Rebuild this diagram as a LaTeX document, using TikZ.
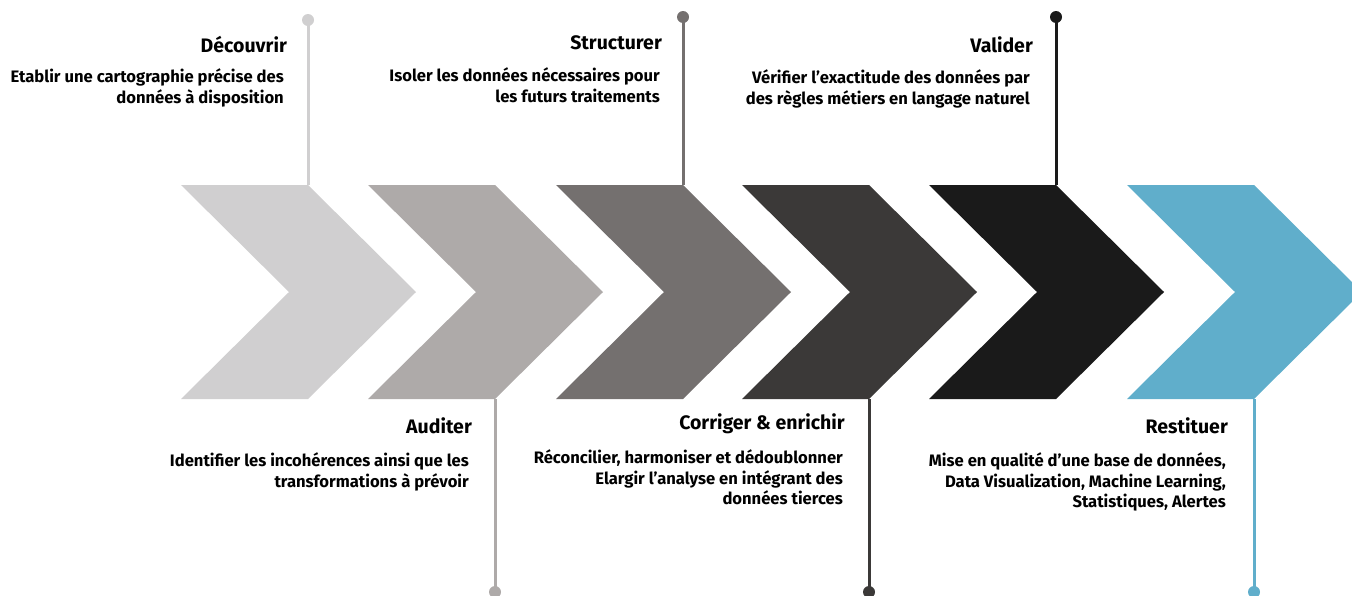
\documentclass[tikz,border=0pt]{standalone}
\usepackage{fontspec}
\setmainfont{Fira Sans}
\usepackage{xcolor}
\usetikzlibrary{positioning}

\definecolor{decouvrir}{HTML}{D0CFD0}
\definecolor{auditer}{HTML}{AEAAA9}
\definecolor{structurer}{HTML}{74706F}
\definecolor{corriger}{HTML}{3B3938}
\definecolor{valider}{HTML}{1A1A1A}
\definecolor{restituer}{HTML}{60AECB}

\begin{document}
\begin{tikzpicture}[x=1pt, y=-1pt,
    title/.style={anchor=east, font=\fontsize{19.5}{22}\selectfont\bfseries, inner sep=0pt},
    desc/.style={anchor=north east, align=right, font=\fontsize{16.6}{20.5}\selectfont\bfseries, inner sep=0pt},
    stem/.style={line width=3pt},
    dot/.style={circle, inner sep=0pt, minimum size=12pt}
]
    \clip (0,0) rectangle (1352,595);

    % chevrons
    \foreach \x/\c/\n in {181/decouvrir/1, 368/auditer/2, 556/structurer/3, 742/corriger/4, 929/valider/5, 1127/restituer/6} {
        \fill[\c] (\x,185) -- ++(127,0) -- ++(108,107) -- ++(-108,107) -- ++(-127,0) -- ++(108,-107) -- cycle;
        \coordinate (top\n) at (\x+127,185);
        \coordinate (bot\n) at (\x+127,399);
    }

    % pins
    \node[dot, fill=decouvrir] (pin1) at (308,20) {};
    \node[dot, fill=auditer] (pin2) at (495,592) {};
    \node[dot, fill=structurer] (pin3) at (683,17) {};
    \node[dot, fill=corriger] (pin4) at (869,592) {};
    \node[dot, fill=valider] (pin5) at (1056,17) {};
    \node[dot, fill=restituer] (pin6) at (1254,592) {};

    \draw[stem, decouvrir] (top1) -- (pin1.center);
    \draw[stem, auditer] (bot2) -- (pin2.center);
    \draw[stem, structurer] (top3) -- (pin3.center);
    \draw[stem, corriger] (bot4) -- (pin4.center);
    \draw[stem, valider] (top5) -- (pin5.center);
    \draw[stem, restituer] (bot6) -- (pin6.center);

    % texts above
    \node[title] (t1) at (287,45) {Découvrir};
    \node[desc] (d1) at (284,68.5) {Etablir une cartographie précise des\\données à disposition};
    \node[title] (t3) at (662,43) {Structurer};
    \node[desc] (d3) at (660,67.5) {Isoler les données nécessaires pour\\les futurs traitements};
    \node[title] (t5) at (1033,45) {Valider};
    \node[desc] (d5) at (1030,69.5) {Vérifier l’exactitude des données par\\des règles métiers en langage naturel};

    % texts below
    \node[title] (t2) at (472,426) {Auditer};
    \node[desc] (d2) at (469,452.5) {Identifier les incohérences ainsi que les\\transformations à prévoir};
    \node[title] (t4) at (845,424) {Corriger \& enrichir};
    \node[desc] (d4) at (843,449.5) {Réconcilier, harmoniser et dédoublonner\\Elargir l’analyse en intégrant des\\données tierces};
    \node[title] (t6) at (1228,426) {Restituer};
    \node[desc] (d6) at (1226,452.5) {Mise en qualité d’une base de données,\\Data Visualization, Machine Learning,\\Statistiques, Alertes};
\end{tikzpicture}
\end{document}
